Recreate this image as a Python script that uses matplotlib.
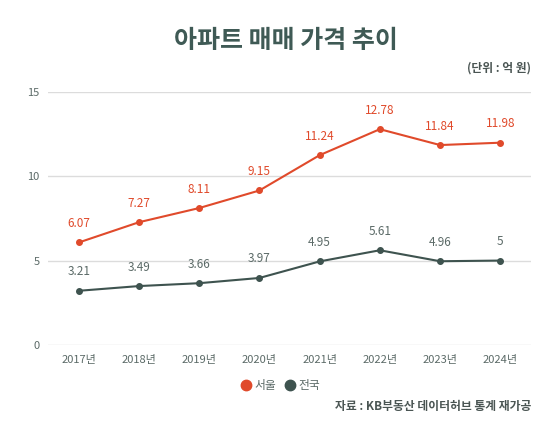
import matplotlib
matplotlib.use("Agg")
import matplotlib.pyplot as plt
from matplotlib.lines import Line2D

plt.rcParams["font.family"] = ["Noto Sans CJK KR", "DejaVu Sans"]

years = ["2017년", "2018년", "2019년", "2020년", "2021년", "2022년", "2023년", "2024년"]
seoul = [6.07, 7.27, 8.11, 9.15, 11.24, 12.78, 11.84, 11.98]
nation = [3.21, 3.49, 3.66, 3.97, 4.95, 5.61, 4.96, 5]
seoul_labels = ["6.07", "7.27", "8.11", "9.15", "11.24", "12.78", "11.84", "11.98"]
nation_labels = ["3.21", "3.49", "3.66", "3.97", "4.95", "5.61", "4.96", "5"]
yticks = [0, 5, 10, 15]

SEOUL_C = "#e04a2b"
NATION_C = "#3e534f"
TEXT_C = "#5b6a67"
TITLE_C = "#3f5a55"

fig = plt.figure(figsize=(5.59, 4.36), dpi=100)
ax = fig.add_axes([0.0859, 0.2087, 0.8640, 0.581])

x = list(range(len(years)))
ax.plot(x, seoul, color=SEOUL_C, lw=1.5, marker="o", ms=4, zorder=3)
ax.plot(x, nation, color=NATION_C, lw=1.5, marker="o", ms=4, zorder=3)

for xi, v, s in zip(x, seoul, seoul_labels):
    ax.annotate(s, (xi, v), xytext=(0, 9), textcoords="offset points",
                ha="center", va="bottom", fontsize=8.5, color=SEOUL_C)
for xi, v, s in zip(x, nation, nation_labels):
    ax.annotate(s, (xi, v), xytext=(0, 9), textcoords="offset points",
                ha="center", va="bottom", fontsize=8.5, color=TEXT_C)

ax.set_xlim(-0.51, 7.51)
ax.set_ylim(0, 15)
ax.set_xticks(x)
ax.set_xticklabels(years, fontweight="medium")
ax.set_yticks(yticks)
ax.tick_params(length=0, labelsize=8, labelcolor=TEXT_C)
ax.tick_params(axis="y", pad=6)
ax.tick_params(axis="x", pad=7)
ax.grid(axis="y", color="#dcdcdc", lw=1)
ax.set_axisbelow(True)
for sp in ax.spines.values():
    sp.set_visible(False)

fig.text(0.512, 0.905, "아파트 매매 가격 추이", ha="center", va="center",
         fontsize=18, color=TITLE_C, fontweight="bold")
fig.text(0.950, 0.843, "(단위 : 억 원)", ha="right", va="center",
         fontsize=8.5, color="#4a5553", fontweight="bold")
fig.text(0.950, 0.068, "자료 : KB부동산 데이터허브 통계 재가공", ha="right", va="center",
         fontsize=8.5, color="#4a5553", fontweight="bold")

handles = [
    Line2D([], [], ls="none", marker="o", ms=7.5, color=SEOUL_C, label="서울"),
    Line2D([], [], ls="none", marker="o", ms=7.5, color=NATION_C, label="전국"),
]
fig.legend(handles=handles, loc="center", bbox_to_anchor=(0.5, 0.115), ncol=2,
           frameon=False, fontsize=8.5, labelcolor=TEXT_C, handletextpad=0.1,
           columnspacing=0.6, handlelength=1.2)

fig.savefig("out.png", dpi=100)
